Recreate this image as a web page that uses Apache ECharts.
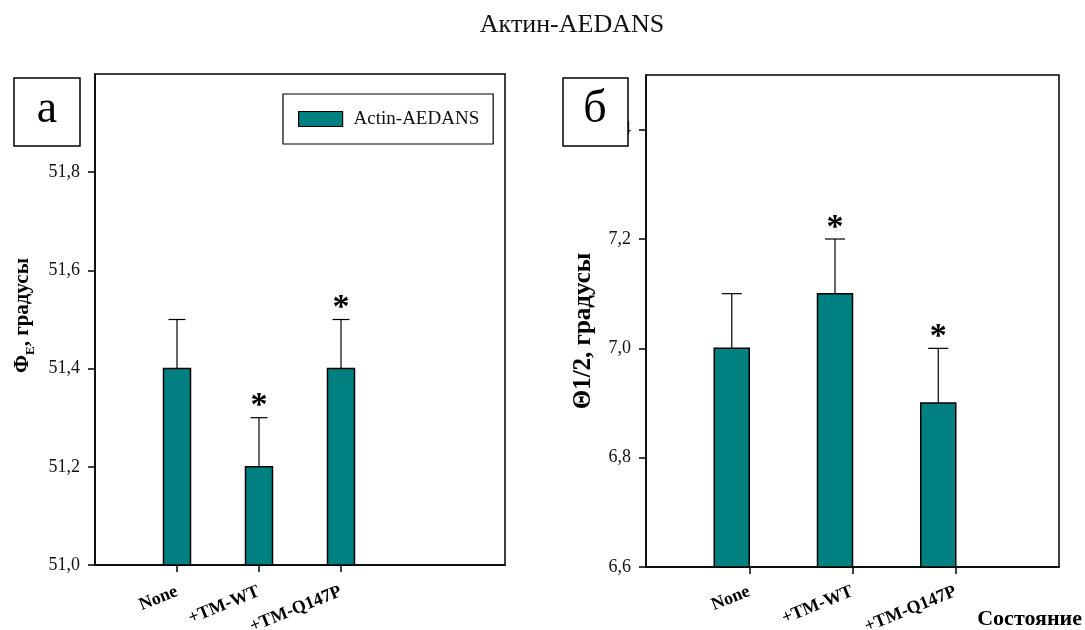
<!DOCTYPE html>
<html><head><meta charset="utf-8">
<script src="https://cdn.jsdelivr.net/npm/echarts@6/dist/echarts.min.js"></script>
<style>html,body{margin:0;padding:0;background:#fff}#c{width:1085px;height:630px}</style>
</head><body><div id="c"></div>
<script>
// ---- data ----
const categories = ['None', '+TM-WT', '+TM-Q147P'];
const phiValues = [51.4, 51.2, 51.4];
const phiErrors = [0.1, 0.1, 0.1];
const phiSignificant = [0, 1, 1];
const thetaValues = [7.0, 7.1, 6.9];
const thetaErrors = [0.1, 0.1, 0.1];
const thetaSignificant = [0, 1, 1];
const seriesName = 'Actin-AEDANS';
const chartTitle = 'Актин-AEDANS';
const panelLabels = ['а', 'б'];
const phiAxisName = '{a|Ф}{s|E}{a|, градусы}';
const thetaAxisName = 'Θ1/2, градусы';
const xAxisName = 'Состояние';
const phiRange = [51.0, 52.0];
const thetaRange = [6.6, 7.5];
const tickStep = 0.2;

// ---- style ----
const FONT = 'Liberation Serif';
const TEAL = '#008080';

const fmt = v => v.toFixed(1).replace('.', ',');
const isCat = (i, v) => v !== '';

function barRender(yMin, width, offset) {
  return function (params, api) {
    const x = api.value(0), v = api.value(1);
    const top = api.coord([x, v]);
    const base = api.coord([x, yMin]);
    return {
      type: 'rect',
      shape: { x: top[0] - width / 2 + offset, y: top[1], width: width, height: base[1] - top[1] },
      style: { fill: TEAL, stroke: '#000', lineWidth: 1.5 }
    };
  };
}
function errRender(offset, capW) {
  return function (params, api) {
    const x = api.value(0), v = api.value(1), hi = api.value(2), sig = api.value(3);
    const p0 = api.coord([x, v]), p1 = api.coord([x, hi]);
    const cx = p0[0] + offset;
    const children = [
      { type: 'line', shape: { x1: cx, y1: p0[1], x2: cx, y2: p1[1] }, style: { stroke: '#000', lineWidth: 1.2 } },
      { type: 'line', shape: { x1: cx - capW / 2, y1: p1[1], x2: cx + capW / 2, y2: p1[1] }, style: { stroke: '#000', lineWidth: 1.2 } }
    ];
    if (sig) {
      children.push({ type: 'text', style: { text: '*', x: cx, y: p1[1] - 11, fontSize: 34, fontWeight: 'bold', fontFamily: FONT, fill: '#000', align: 'center', verticalAlign: 'middle' } });
    }
    return { type: 'group', children: children };
  };
}

const axisCommonY = (range, name, nameGap, nameSize, namePad, rich) => ({
  type: 'value', min: range[0], max: range[1], interval: tickStep,
  axisLine: { show: true, lineStyle: { color: '#000', width: 1.5 } },
  axisTick: { show: true, length: 7, inside: false, lineStyle: { color: '#000', width: 1.5 } },
  axisLabel: { margin: 15, fontSize: 18, fontFamily: FONT, color: '#111', showMaxLabel: false, formatter: fmt },
  splitLine: { show: false },
  name: name, nameLocation: 'middle', nameGap: nameGap, nameRotate: 90,
  nameTextStyle: Object.assign({ fontSize: nameSize, fontWeight: 'bold', fontFamily: FONT, color: '#000', padding: namePad }, rich ? { rich: rich } : {})
});
const axisCommonX = (pad, margin) => ({
  type: 'category', data: ['', ...categories, ...pad], boundaryGap: false,
  axisLine: { show: true, lineStyle: { color: '#000', width: 1.5 } },
  axisTick: { show: true, length: 7, interval: isCat, lineStyle: { color: '#000', width: 1.5 } },
  axisLabel: { interval: isCat, rotate: 22, margin: margin, fontSize: 18, fontWeight: 'bold', fontFamily: FONT, color: '#000' },
  splitLine: { show: false }
});

const phiBars = categories.map((c, i) => [i + 1, phiValues[i]]);
const phiErr = categories.map((c, i) => [i + 1, phiValues[i], phiValues[i] + phiErrors[i], phiSignificant[i]]);
const thetaBars = categories.map((c, i) => [i + 1, thetaValues[i]]);
const thetaErr = categories.map((c, i) => [i + 1, thetaValues[i], thetaValues[i] + thetaErrors[i], thetaSignificant[i]]);

const chart = echarts.init(document.getElementById('c'), null, { renderer: 'canvas' });
chart.setOption({
  animation: false,
  backgroundColor: '#fff',
  grid: [
    { left: 95, top: 74, width: 410, height: 491, show: true, borderColor: '#000', borderWidth: 1.5, backgroundColor: 'transparent', containLabel: false, outerBoundsMode: 'none' },
    { left: 646, top: 75, width: 413, height: 492, show: true, borderColor: '#000', borderWidth: 1.5, backgroundColor: 'transparent', containLabel: false, outerBoundsMode: 'none' }
  ],
  xAxis: [
    Object.assign({ gridIndex: 0 }, axisCommonX(['', ''], 26)),
    Object.assign({ gridIndex: 1 }, axisCommonX([''], 24))
  ],
  yAxis: [
    Object.assign({ gridIndex: 0 }, axisCommonY(phiRange, phiAxisName, 58, 21, [0, 0, 0, 8], {
      a: { fontSize: 21, fontWeight: 'bold', fontFamily: FONT, color: '#000', lineHeight: 28, verticalAlign: 'middle' },
      s: { fontSize: 13, fontWeight: 'bold', fontFamily: FONT, color: '#000', lineHeight: 28, verticalAlign: 'bottom' }
    })),
    Object.assign({ gridIndex: 1 }, axisCommonY(thetaRange, thetaAxisName, 50, 25, [0, 20, 0, 0], null))
  ],
  legend: {
    left: 283, top: 94,
    padding: [15, 14, 15, 15],
    backgroundColor: '#fff', borderColor: '#000', borderWidth: 1.2,
    itemWidth: 44, itemHeight: 15, itemGap: 12,
    data: [{ name: seriesName, icon: 'rect' }],
    itemStyle: { color: TEAL, borderColor: '#000', borderWidth: 1.2 },
    textStyle: { fontSize: 19, fontFamily: FONT, color: '#111', lineHeight: 20, padding: [0, 0, 0, 6] },
    selectedMode: false
  },
  series: [
    { type: 'custom', name: seriesName, xAxisIndex: 0, yAxisIndex: 0, itemStyle: { color: TEAL }, renderItem: barRender(phiRange[0], 27, 0), data: phiBars, z: 2 },
    { type: 'custom', name: 'phi-err', xAxisIndex: 0, yAxisIndex: 0, renderItem: errRender(0, 17), data: phiErr, z: 3 },
    { type: 'custom', name: seriesName, xAxisIndex: 1, yAxisIndex: 1, itemStyle: { color: TEAL }, renderItem: barRender(thetaRange[0], 35, -17.5), data: thetaBars, z: 2 },
    { type: 'custom', name: 'theta-err', xAxisIndex: 1, yAxisIndex: 1, renderItem: errRender(-17.5, 20), data: thetaErr, z: 3 }
  ],
  graphic: [
    { type: 'text', x: 572, y: 25, style: { text: chartTitle, fontSize: 26, fontFamily: FONT, fill: '#111', align: 'center', verticalAlign: 'middle' }, z: 10 },
    { type: 'rect', shape: { x: 14, y: 78, width: 66, height: 68 }, style: { fill: '#fff', stroke: '#000', lineWidth: 1.5 }, z: 20 },
    { type: 'text', x: 47, y: 110, style: { text: panelLabels[0], fontSize: 46, fontFamily: FONT, fill: '#000', align: 'center', verticalAlign: 'middle' }, z: 21 },
    { type: 'rect', shape: { x: 563, y: 78, width: 65, height: 68 }, style: { fill: '#fff', stroke: '#000', lineWidth: 1.5 }, z: 20 },
    { type: 'text', x: 595, y: 110, style: { text: panelLabels[1], fontSize: 46, fontFamily: FONT, fill: '#000', align: 'center', verticalAlign: 'middle' }, z: 21 },
    { type: 'text', x: 1082, y: 619, style: { text: xAxisName, fontSize: 22, fontWeight: 'bold', fontFamily: FONT, fill: '#000', align: 'right', verticalAlign: 'middle' }, z: 10 }
  ]
});
</script>
</body></html>
